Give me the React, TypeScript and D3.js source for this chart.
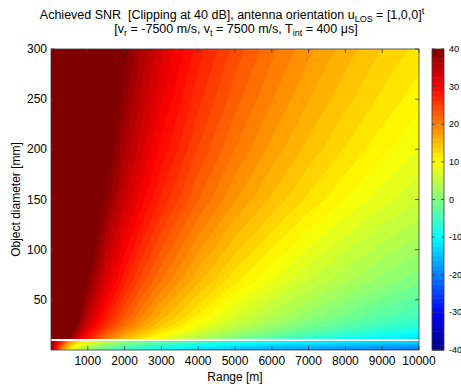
import { useMemo } from 'react';
import * as d3 from 'd3';

const W = 461;
const H = 392;
const FONT = '"Liberation Sans", Arial, sans-serif';
const FRAME = '#3a3a3a';

// range samples [m] (columns of the SNR grids)
const RANGE_M = [0, 250, 500, 750, 1000, 1500, 2000, 2500, 3000, 4000, 5000, 6000, 7000, 8000, 9000, 10000];

// object diameters [mm] above the gap, with SNR [dB]
const DIAM_TOP = [11, 18, 25, 35, 50, 70, 100, 150, 200, 250, 300];
const SNR_TOP = [
  [40, 52.1, 40.0, 33.0, 28.0, 21.0, 16.0, 12.1, 8.9, 3.9, 0.0, -3.1, -5.8, -8.1, -10.2, -12.0],
  [40, 55.6, 43.5, 36.5, 31.5, 24.5, 19.5, 15.6, 12.4, 7.4, 3.5, 0.4, -2.3, -4.6, -6.7, -8.5],
  [40, 58.1, 46.0, 39.0, 34.0, 27.0, 22.0, 18.1, 14.9, 9.9, 6.0, 2.9, 0.2, -2.1, -4.2, -6.0],
  [40, 60.1, 48.0, 41.0, 36.0, 29.0, 24.0, 20.1, 16.9, 11.9, 8.0, 4.9, 2.2, -0.1, -2.2, -4.0],
  [40, 62.1, 50.0, 43.0, 38.0, 31.0, 26.0, 22.1, 18.9, 13.9, 10.0, 6.9, 4.2, 1.9, -0.2, -2.0],
  [40, 64.6, 52.5, 45.5, 40.5, 33.5, 28.5, 24.6, 21.4, 16.4, 12.5, 9.4, 6.7, 4.4, 2.3, 0.5],
  [40, 67.1, 55.0, 48.0, 43.0, 36.0, 31.0, 27.1, 23.9, 18.9, 15.0, 11.9, 9.2, 6.9, 4.8, 3.0],
  [40, 70.9, 58.8, 51.8, 46.8, 39.8, 34.8, 30.9, 27.7, 22.7, 18.8, 15.7, 13.0, 10.7, 8.6, 6.8],
  [40, 73.4, 61.3, 54.3, 49.3, 42.3, 37.3, 33.4, 30.2, 25.2, 21.3, 18.2, 15.5, 13.2, 11.1, 9.3],
  [40, 75.3, 63.2, 56.2, 51.2, 44.2, 39.2, 35.3, 32.1, 27.1, 23.2, 20.1, 17.4, 15.1, 13.0, 11.2],
  [40, 76.9, 64.8, 57.8, 52.8, 45.8, 40.8, 36.9, 33.7, 28.7, 24.8, 21.7, 19.0, 16.7, 14.6, 12.8],
];

// thin strip below the gap
const DIAM_STRIP = [0, 3, 6, 8.5];
const SNR_STRIP = [
  [40, 21, 11, 5, 2, -3, -6, -8, -10, -13, -15, -17, -18, -19, -20, -21],
  [40, 24, 14, 8, 5, 0, -3, -5, -7, -10, -12, -14, -15, -16, -17, -18],
  [40, 27, 17, 11, 8, 3, 0, -2, -4, -7, -9, -11, -12, -13, -14, -15],
  [40, 30, 20, 14, 11, 6, 3, 1, -1, -4, -6, -8, -9, -10, -11, -12],
];

const X_TICKS = [1000, 2000, 3000, 4000, 5000, 6000, 7000, 8000, 9000, 10000];
const Y_TICKS = [50, 100, 150, 200, 250, 300];
const CBAR_TICKS = [-40, -30, -20, -10, 0, 10, 20, 30, 40];
const CLIP_DB = 40;
const N_LEVELS = 61;

function jet(v: number) {
  const t = (v + CLIP_DB) / (2 * CLIP_DB);
  const c = (k: number) => 255 * Math.max(0, Math.min(1, 1.5 - Math.abs(4 * t - k)));
  return d3.rgb(c(3), c(2), c(1)).formatHex();
}

const M = { left: 51, right: 419, top: 49, bottom: 350 };
const CB = { x0: 432, x1: 444 };

export default function App() {
  const x = d3.scaleLinear().domain([0, 10000]).range([M.left, M.right]);
  const y = d3.scaleLinear().domain([0, 300]).range([M.bottom, M.top]);
  const c = d3.scaleLinear().domain([-CLIP_DB, CLIP_DB]).range([M.bottom, M.top]);

  const levels = d3.range(N_LEVELS).map((i) => -CLIP_DB + (i * 2 * CLIP_DB) / (N_LEVELS - 1));

  const layers = useMemo(() => {
    const build = (diams: number[], grid: number[][], key: string) => {
      const gx = d3.scaleLinear().domain(RANGE_M.map((_, i) => i + 0.5)).range(RANGE_M).clamp(true);
      const gy = d3.scaleLinear().domain(diams.map((_, i) => i + 0.5)).range(diams).clamp(true);
      const path = d3.geoPath(
        d3.geoTransform({
          point(px: number, py: number) {
            this.stream.point(x(gx(px)), y(gy(py)));
          },
        }),
      );
      const values = grid.flat();
      const polys = d3.contours().size([RANGE_M.length, diams.length]).thresholds(levels)(values);
      return polys.map((p, i) => (
        <path key={`${key}-${i}`} d={path(p as any) ?? ''} fill={jet(p.value)} />
      ));
    };
    return [...build(DIAM_STRIP, SNR_STRIP, 's'), ...build(DIAM_TOP, SNR_TOP, 't')];
  }, []);

  const cbarSteps = d3.range(64).map((i) => -CLIP_DB + (i * 2 * CLIP_DB) / 64);
  const cstep = (2 * CLIP_DB) / 64;

  return (
    <svg width={W} height={H} style={{ position: 'absolute', left: 0, top: 0, background: '#fff' }} fontFamily={FONT}>
      <rect width={W} height={H} fill="#fff" />
      <defs>
        <clipPath id="plotclip">
          <rect x={M.left} y={M.top} width={M.right - M.left} height={M.bottom - M.top} />
        </clipPath>
      </defs>
      <g clipPath="url(#plotclip)">{layers}</g>

      {/* frame + inward ticks */}
      <rect x={M.left} y={M.top} width={M.right - M.left} height={M.bottom - M.top} fill="none" stroke={FRAME} strokeWidth={0.8} />
      {X_TICKS.map((t) => (
        <g key={`xt${t}`}>
          <line x1={x(t)} x2={x(t)} y1={M.bottom} y2={M.bottom - 4} stroke={FRAME} strokeWidth={0.8} />
          <line x1={x(t)} x2={x(t)} y1={M.top} y2={M.top + 4} stroke={FRAME} strokeWidth={0.8} />
          <text x={x(t)} y={M.bottom + 15} textAnchor="middle" fontSize={12} fill="#000">
            {t}
          </text>
        </g>
      ))}
      {Y_TICKS.map((t) => (
        <g key={`yt${t}`}>
          <line x1={M.left} x2={M.left + 4} y1={y(t)} y2={y(t)} stroke={FRAME} strokeWidth={0.8} />
          <line x1={M.right} x2={M.right - 4} y1={y(t)} y2={y(t)} stroke={FRAME} strokeWidth={0.8} />
          <text x={M.left - 4} y={y(t) + 4} textAnchor="end" fontSize={12} fill="#000">
            {t}
          </text>
        </g>
      ))}

      <text x={(M.left + M.right) / 2} y={381} textAnchor="middle" fontSize={12}>
        Range [m]
      </text>
      <text transform={`translate(20,${(M.top + M.bottom) / 2}) rotate(-90)`} textAnchor="middle" fontSize={12}>
        Object diameter [mm]
      </text>

      {/* title */}
      <text x={232} y={19} textAnchor="middle" fontSize={12.5} style={{ whiteSpace: 'pre' }}>
        {'Achieved SNR  [Clipping at 40 dB], antenna orientation u'}
        <tspan dy={3} fontSize={9}>LOS</tspan>
        <tspan dy={-3}>{' = [1,0,0]'}</tspan>
        <tspan dy={-5} fontSize={9}>t</tspan>
      </text>
      <text x={236} y={33} textAnchor="middle" fontSize={12.5} style={{ whiteSpace: 'pre' }}>
        {'[v'}
        <tspan dy={3} fontSize={9}>r</tspan>
        <tspan dy={-3}>{' = -7500 m/s, v'}</tspan>
        <tspan dy={3} fontSize={9}>t</tspan>
        <tspan dy={-3}>{' = 7500 m/s, T'}</tspan>
        <tspan dy={3} fontSize={9}>int</tspan>
        <tspan dy={-3}>{' = 400 \u03bcs]'}</tspan>
      </text>

      {/* colorbar */}
      {cbarSteps.map((v) => (
        <rect key={`cb${v}`} x={CB.x0} width={CB.x1 - CB.x0} y={c(v + cstep)} height={c(v) - c(v + cstep) + 0.5} fill={jet(v + cstep / 2)} />
      ))}
      <rect x={CB.x0} y={M.top} width={CB.x1 - CB.x0} height={M.bottom - M.top} fill="none" stroke={FRAME} strokeWidth={0.8} />
      {CBAR_TICKS.map((t) => (
        <g key={`ct${t}`}>
          <line x1={CB.x0} x2={CB.x0 + 3} y1={c(t)} y2={c(t)} stroke={FRAME} strokeWidth={0.8} />
          <line x1={CB.x1} x2={CB.x1 - 3} y1={c(t)} y2={c(t)} stroke={FRAME} strokeWidth={0.8} />
          <text x={CB.x1 + 5} y={c(t) + 3} fontSize={9}>
            {t}
          </text>
        </g>
      ))}
    </svg>
  );
}
